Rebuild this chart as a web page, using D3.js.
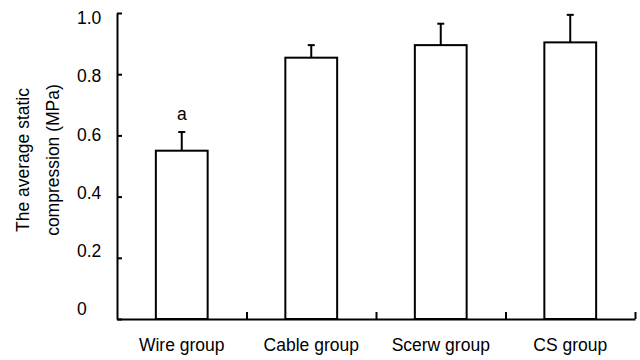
<!DOCTYPE html>
<html>
<head>
<meta charset="utf-8">
<script src="https://cdn.jsdelivr.net/npm/d3@7"></script>
<style>
  body { margin: 0; background: #fff; }
  text { font-family: "Liberation Sans", Arial, sans-serif; fill: #000; }
</style>
</head>
<body>
<svg id="chart" width="640" height="360"></svg>
<script>
let groups = ["Wire group", "Cable group", "Scerw group", "CS group"]
let means = [0.55, 0.854, 0.895, 0.904]
let errors = [0.061, 0.041, 0.07, 0.09]
let marks = ["a", "", "", ""]
let yTicks = [0, 0.2, 0.4, 0.6, 0.8, 1.0]
let yTitle = ["The average static", "compression (MPa)"]

let svg = d3.select("#chart")
let fontSize = "17.5px"
let plotLeft = 117, plotRight = 635, plotTop = 13, plotBottom = 319

let x = d3.scaleBand()
  .domain(groups)
  .range([plotLeft, plotRight])
  .paddingInner(0.6)
  .paddingOuter(0.3)

// boundaries between the groups, for the small upward ticks
let xEdge = d3.scaleLinear()
  .domain([0, groups.length])
  .range([plotLeft, plotRight])

let y = d3.scaleLinear()
  .domain([0, 1])
  .range([plotBottom, plotTop])

// tick labels sit a bit off their ticks in the original
let yLabel = d3.scaleLinear()
  .domain([0, 1])
  .range([309, 18])

// bars
svg.selectAll("rect.bar")
  .data(means)
  .enter().append("rect")
  .attr("class", "bar")
  .attr("x", (d, i) => x(groups[i]))
  .attr("y", d => y(d))
  .attr("width", x.bandwidth())
  .attr("height", d => plotBottom - y(d))
  .style("fill", "#fff")
  .style("stroke", "#000")
  .style("stroke-width", 2)

// error bars
let cap = 7
svg.selectAll("line.err")
  .data(means)
  .enter().append("line")
  .attr("class", "err")
  .attr("x1", (d, i) => x(groups[i]) + x.bandwidth() / 2)
  .attr("x2", (d, i) => x(groups[i]) + x.bandwidth() / 2)
  .attr("y1", d => y(d))
  .attr("y2", (d, i) => y(d + errors[i]))
  .style("stroke", "#000")
  .style("stroke-width", 2)

svg.selectAll("line.cap")
  .data(means)
  .enter().append("line")
  .attr("class", "cap")
  .attr("x1", (d, i) => x(groups[i]) + x.bandwidth() / 2 - cap / 2)
  .attr("x2", (d, i) => x(groups[i]) + x.bandwidth() / 2 + cap / 2)
  .attr("y1", (d, i) => y(d + errors[i]))
  .attr("y2", (d, i) => y(d + errors[i]))
  .style("stroke", "#000")
  .style("stroke-width", 2)

svg.selectAll("text.mark")
  .data(means)
  .enter().append("text")
  .attr("class", "mark")
  .attr("x", (d, i) => x(groups[i]) + x.bandwidth() / 2)
  .attr("y", (d, i) => y(d + errors[i]) - 12)
  .attr("text-anchor", "middle")
  .style("font-size", fontSize)
  .text((d, i) => marks[i])

// y axis, ticks pointing inward
let yAxis = svg.append("g")
  .attr("transform", "translate(" + plotLeft + ",0)")
  .call(d3.axisLeft(y).tickValues(yTicks).tickSize(-5).tickSizeOuter(0).tickFormat(""))
yAxis.selectAll("path, line")
  .style("stroke", "#000")
  .style("stroke-width", 2)

svg.selectAll("text.ytick")
  .data(yTicks)
  .enter().append("text")
  .attr("class", "ytick")
  .attr("x", 77)
  .attr("y", d => yLabel(d))
  .attr("dy", "0.35em")
  .style("font-size", fontSize)
  .text(d => d === 0 ? "0" : d.toFixed(1))

// x axis with boundary ticks
let xAxis = svg.append("g")
  .attr("transform", "translate(0," + plotBottom + ")")
  .call(d3.axisBottom(xEdge).tickValues([1, 2, 3, 4]).tickSize(-7).tickSizeOuter(0).tickFormat(""))
xAxis.selectAll("path, line")
  .style("stroke", "#000")
  .style("stroke-width", 2)

let xLabels = svg.append("g")
  .attr("transform", "translate(0," + plotBottom + ")")
  .call(d3.axisBottom(x).tickSize(0).tickPadding(20))
xLabels.select(".domain").remove()
xLabels.selectAll("text")
  .style("font-size", fontSize)
  .style("font-family", "'Liberation Sans', Arial, sans-serif")

// y title, two lines
svg.selectAll("text.ytitle")
  .data(yTitle)
  .enter().append("text")
  .attr("class", "ytitle")
  .attr("transform", (d, i) => "translate(" + (29 + i * 30) + ",160) rotate(-90)")
  .attr("text-anchor", "middle")
  .style("font-size", fontSize)
  .text(d => d)
</script>
</body>
</html>
